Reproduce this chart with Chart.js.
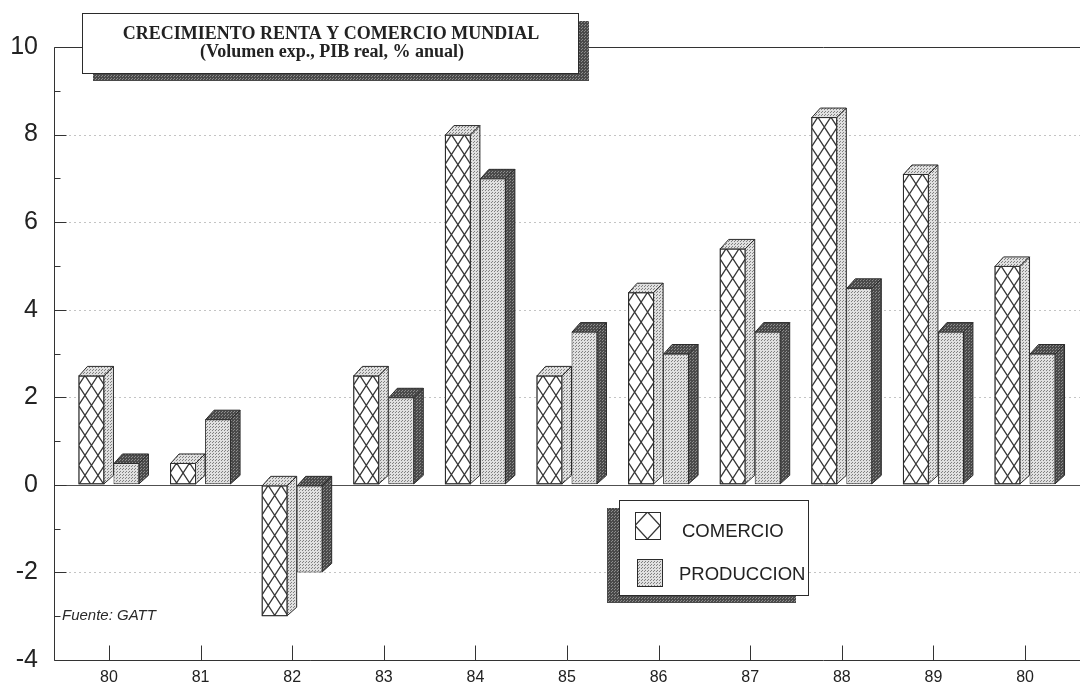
<!DOCTYPE html>
<html>
<head>
<meta charset="utf-8">
<script src="https://cdn.jsdelivr.net/npm/chart.js@4.4.1/dist/chart.umd.min.js"></script>
<style>
  html, body { margin: 0; padding: 0; background: #ffffff; }
  #wrap { width: 1080px; height: 683px; position: relative; }
</style>
</head>
<body>
<div id="wrap"><canvas id="c" width="1080" height="683"></canvas></div>
<script>
// Years on the horizontal axis (the last one is printed as "80")
const years = ['80', '81', '82', '83', '84', '85', '86', '87', '88', '89', '80'];
// Export volume growth, % per year
const comercio = [2.5, 0.5, -3, 2.5, 8, 2.5, 4.4, 5.4, 8.4, 7.1, 5];
// Real GDP growth, % per year
const produccion = [0.5, 1.5, -2, 2, 7, 3.5, 3, 3.5, 4.5, 3.5, 3];
// Value axis range and labelled ticks
const yMin = -4, yMax = 10, yStep = 2;
const seriesNames = ['COMERCIO', 'PRODUCCION'];
const titleLines = ['CRECIMIENTO RENTA Y COMERCIO MUNDIAL', '(Volumen exp., PIB real, % anual)'];
const sourceNote = 'Fuente: GATT';

const canvas = document.getElementById('c');
const ctx0 = canvas.getContext('2d');

// Small dotted screens used as fills
function makeStipple(bg, dot) {
  const cv = document.createElement('canvas');
  cv.width = 3; cv.height = 3;
  const g = cv.getContext('2d');
  g.fillStyle = bg; g.fillRect(0, 0, 3, 3);
  g.fillStyle = dot; g.fillRect(0, 0, 1, 1);
  g.fillRect(2, 1, 1, 1);
  return ctx0.createPattern(cv, 'repeat');
}
const lightDots = makeStipple('#e0e0e0', '#808080');
const darkDots = makeStipple('#4a4a4a', '#8c8c8c');

const INK = '#2b2b2b';
const DEPTH = 9;

// Diamond lattice clipped to a rectangle
function hatch(ctx, L, T, W, H, hw, hh, ax, ay) {
  ctx.save();
  ctx.beginPath(); ctx.rect(L, T, W, H); ctx.clip();
  const s = hh / hw, per = 2 * hh;
  ctx.beginPath();
  let b = ay + s * (L - ax);
  for (let n = Math.floor((T - b - s * W) / per) - 1; n <= Math.ceil((T + H - b) / per) + 1; n++) {
    ctx.moveTo(L, b + per * n); ctx.lineTo(L + W, b + s * W + per * n);
  }
  b = ay - s * (L - ax);
  for (let n = Math.floor((T - b) / per) - 1; n <= Math.ceil((T + H - b + s * W) / per) + 1; n++) {
    ctx.moveTo(L, b + per * n); ctx.lineTo(L + W, b - s * W + per * n);
  }
  ctx.strokeStyle = '#383838';
  ctx.lineWidth = 1.3;
  ctx.stroke();
  ctx.restore();
}

function face(ctx, pts, fill) {
  ctx.beginPath();
  ctx.moveTo(pts[0][0], pts[0][1]);
  for (let i = 1; i < pts.length; i++) ctx.lineTo(pts[i][0], pts[i][1]);
  ctx.closePath();
  ctx.fillStyle = fill; ctx.fill();
  ctx.strokeStyle = INK; ctx.lineWidth = 1; ctx.stroke();
}

// Axes, inward tick marks, dotted guide lines and zero line
const framePlugin = {
  id: 'frame',
  beforeDatasetsDraw(chart) {
    const { ctx, chartArea: a, scales: { x, y } } = chart;
    ctx.save();
    ctx.lineWidth = 1;
    // dotted guides
    ctx.strokeStyle = '#c4c4c4';
    ctx.setLineDash([2, 3]);
    for (let v = yMin + yStep; v < yMax; v += yStep) {
      if (v === 0) continue;
      const py = Math.round(y.getPixelForValue(v)) + 0.5;
      ctx.beginPath(); ctx.moveTo(a.left, py); ctx.lineTo(a.right, py); ctx.stroke();
    }
    ctx.setLineDash([]);
    // zero line
    ctx.strokeStyle = '#505050';
    const p0 = Math.round(y.getPixelForValue(0)) + 0.5;
    ctx.beginPath(); ctx.moveTo(a.left, p0); ctx.lineTo(a.right, p0); ctx.stroke();
    // frame: left, bottom, top
    ctx.strokeStyle = '#333333';
    const L = Math.round(a.left) + 0.5, B = Math.round(a.bottom) + 0.5, T = Math.round(a.top) + 0.5;
    ctx.beginPath();
    ctx.moveTo(L, T); ctx.lineTo(L, B); ctx.lineTo(a.right, B);
    ctx.moveTo(L, T); ctx.lineTo(a.right, T);
    ctx.stroke();
    // value ticks (long on labelled values, short in between)
    ctx.beginPath();
    for (let v = yMin; v <= yMax; v += 1) {
      const py = Math.round(y.getPixelForValue(v)) + 0.5;
      const len = (v % yStep === 0) ? 12 : 6;
      ctx.moveTo(L, py); ctx.lineTo(L + len, py);
    }
    // year ticks
    x.ticks.forEach((t, i) => {
      const px = Math.round(x.getPixelForTick(i)) + 0.5;
      ctx.moveTo(px, B); ctx.lineTo(px, B - 15);
    });
    ctx.stroke();
    ctx.restore();
  },
  afterDatasetsDraw(chart) {
    const { ctx, scales: { y } } = chart;
    ctx.save();
    chart.getSortedVisibleDatasetMetas().forEach((meta, di) => {
      meta.data.forEach((bar) => {
        const { x, y: yy, base, width } = bar.getProps(['x', 'y', 'base', 'width'], true);
        const L = x - width / 2, R = x + width / 2;
        const top = Math.min(yy, base), bot = Math.max(yy, base);
        const sideFill = di === 0 ? lightDots : darkDots;
        if (di === 0) {
          hatch(ctx, L + 0.5, top + 0.5, width - 1, bot - top - 1, width / 4, 10, L, top + 10);
          ctx.strokeStyle = INK; ctx.lineWidth = 1;
          ctx.strokeRect(L + 0.5, top + 0.5, width - 1, bot - top - 1);
        }
        face(ctx, [[L + 0.5, top + 0.5], [L + DEPTH, top - DEPTH], [R + DEPTH, top - DEPTH], [R - 0.5, top + 0.5]], sideFill);
        face(ctx, [[R - 0.5, top + 0.5], [R + DEPTH, top - DEPTH], [R + DEPTH, bot - DEPTH], [R - 0.5, bot - 0.5]], sideFill);
      });
    });

    // source note
    ctx.fillStyle = '#2a2a2a';
    ctx.font = 'italic 15px "Liberation Sans", Arial, sans-serif';
    ctx.textAlign = 'left'; ctx.textBaseline = 'alphabetic';
    ctx.fillText(sourceNote, 62, y.getPixelForValue(-3) + 4);

    // title box with drop shadow
    ctx.fillStyle = darkDots;
    ctx.fillRect(93, 21, 496, 60);
    ctx.fillStyle = '#ffffff';
    ctx.fillRect(82, 13, 496, 60);
    ctx.strokeStyle = INK; ctx.lineWidth = 1;
    ctx.strokeRect(82.5, 13.5, 496, 60);
    ctx.fillStyle = '#222222';
    ctx.textAlign = 'center';
    ctx.font = 'bold 18px "Liberation Serif", "Times New Roman", serif';
    ctx.fillText(titleLines[0], 331, 39);
    ctx.fillText(titleLines[1], 332, 57);

    // legend box with drop shadow
    ctx.fillStyle = darkDots;
    ctx.fillRect(607, 508, 189, 95);
    ctx.fillStyle = '#ffffff';
    ctx.fillRect(619, 500, 189, 95);
    ctx.strokeStyle = INK;
    ctx.strokeRect(619.5, 500.5, 189, 95);
    // swatch 1: lattice
    ctx.fillStyle = '#ffffff';
    ctx.fillRect(635, 512, 25, 27);
    hatch(ctx, 635, 512, 25, 27, 12.5, 13.5, 635, 525.5);
    ctx.strokeStyle = INK; ctx.lineWidth = 1;
    ctx.strokeRect(635.5, 512.5, 25, 27);
    // swatch 2: dotted
    ctx.fillStyle = lightDots;
    ctx.fillRect(637, 559, 25, 27);
    ctx.strokeRect(637.5, 559.5, 25, 27);
    ctx.fillStyle = '#222222';
    ctx.textAlign = 'left';
    ctx.font = '18.5px "Liberation Sans", Arial, sans-serif';
    ctx.fillText(seriesNames[0], 682, 537);
    ctx.fillText(seriesNames[1], 679, 580);
    ctx.restore();
  }
};

new Chart(canvas, {
  type: 'bar',
  data: {
    datasets: [
      {
        label: seriesNames[0],
        data: comercio.map((v, i) => ({ x: i, y: v })),
        backgroundColor: '#ffffff',
        borderColor: INK,
        borderWidth: 1,
        borderSkipped: false,
        categoryPercentage: 0.764,
        barPercentage: 0.743
      },
      {
        label: seriesNames[1],
        data: produccion.map((v, i) => ({ x: i, y: v })),
        backgroundColor: lightDots,
        borderColor: INK,
        borderWidth: 1,
        borderSkipped: false,
        categoryPercentage: 0.764,
        barPercentage: 0.743
      }
    ]
  },
  options: {
    responsive: false,
    animation: false,
    events: [],
    layout: { padding: { top: 47, right: 0, bottom: 0, left: 0 } },
    plugins: { legend: { display: false }, title: { display: false }, tooltip: { enabled: false } },
    scales: {
      x: {
        type: 'linear',
        offset: false,
        min: -0.6,
        max: 10.6,
        grid: { display: false, drawTicks: false, offset: false },
        border: { display: false },
        afterBuildTicks(s) {
          s.ticks = years.map((_, i) => ({ value: i }));
        },
        afterFit(s) { s.height = 23; },
        ticks: {
          autoSkip: false,
          maxRotation: 0,
          padding: 8,
          color: '#222222',
          font: { family: '"Liberation Sans", Arial, sans-serif', size: 16 },
          callback: (v) => years[v]
        }
      },
      y: {
        min: yMin,
        max: yMax,
        grid: {
          display: true,
          drawOnChartArea: false,
          drawTicks: true,
          tickLength: 16,
          tickColor: 'rgba(0,0,0,0)'
        },
        border: { display: false },
        afterFit(s) { s.width = 54; },
        ticks: {
          stepSize: yStep,
          padding: 0,
          color: '#222222',
          font: { family: '"Liberation Sans", Arial, sans-serif', size: 25 }
        }
      }
    }
  },
  plugins: [framePlugin]
});
</script>
</body>
</html>
